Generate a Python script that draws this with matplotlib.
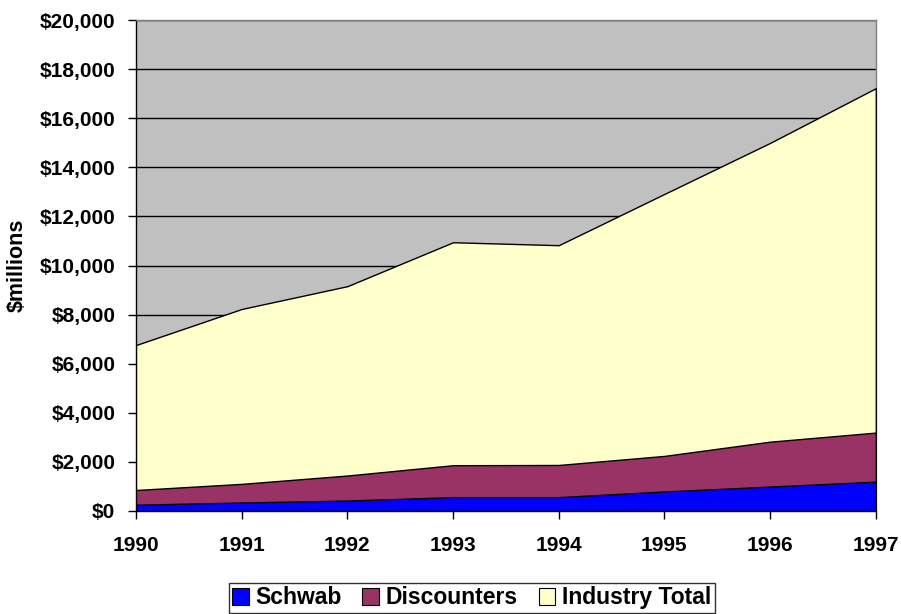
import matplotlib.pyplot as plt
from matplotlib.patches import Patch
from matplotlib.ticker import FuncFormatter

# data ($ millions)
years = [1990, 1991, 1992, 1993, 1994, 1995, 1996, 1997]
schwab = [250, 340, 420, 560, 560, 790, 990, 1190]
discounters = [850, 1100, 1440, 1860, 1870, 2240, 2820, 3190]
industry_total = [6760, 8230, 9160, 10950, 10830, 12920, 15000, 17230]

series_names = ["Schwab", "Discounters", "Industry Total"]
series_colors = ["#0000FF", "#993366", "#FFFFCC"]

plt.rcParams["font.family"] = ["Liberation Sans", "DejaVu Sans"]
plt.rcParams["font.weight"] = "bold"

fig = plt.figure(figsize=(9.01, 6.14), dpi=100)
ax = fig.add_axes([0.151, 0.168, 0.821, 0.799])
ax.set_facecolor("#C0C0C0")

# areas overlap, each drawn from zero (largest first)
for vals, col in zip([industry_total, discounters, schwab], series_colors[::-1]):
    ax.fill_between(years, 0, vals, facecolor=col, edgecolor="black", linewidth=1.0, zorder=3)

ax.set_xlim(years[0], years[-1])
ax.set_ylim(0, 20000)
ax.set_yticks(range(0, 20001, 2000))
ax.set_xticks(years)
ax.yaxis.set_major_formatter(FuncFormatter(lambda v, p: f"${int(v):,}"))
ax.grid(axis="y", color="black", linewidth=1.0, zorder=1)
ax.set_axisbelow(True)

for s in ax.spines.values():
    s.set_color("#808080")
    s.set_linewidth(1.0)
ax.spines["left"].set_color("black")
ax.spines["bottom"].set_color("black")

ax.tick_params(axis="both", labelsize=15, length=6, width=1, direction="out")
ax.tick_params(axis="y", pad=9)
ax.tick_params(axis="x", pad=12)
ax.set_ylabel("$millions", fontsize=15.5, fontweight="bold")
ax.yaxis.set_label_coords(-0.146, 0.5)

handles = [Patch(facecolor=c, edgecolor="black", linewidth=0.8) for c in series_colors]
fig.legend(handles, series_names, loc="lower center", bbox_to_anchor=(0.5235, 0.0),
           ncol=3, fontsize=16.5, frameon=True, fancybox=False, edgecolor="black",
           handlelength=0.72, handleheight=0.72, handletextpad=0.3, columnspacing=0.9,
           borderpad=0.15, borderaxespad=0.05)

fig.savefig("out.png", dpi=100)
